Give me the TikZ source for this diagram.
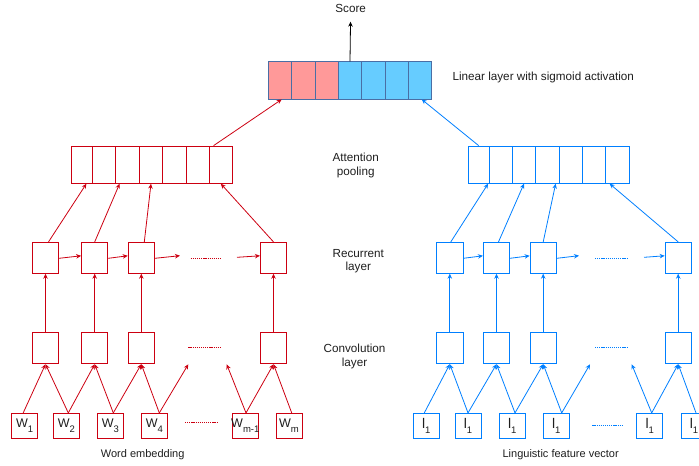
\documentclass[tikz,border=0pt]{standalone}
\usepackage{fontspec}
\setmainfont{Liberation Sans}
\usetikzlibrary{arrows.meta,calc}
\definecolor{cred}{RGB}{204,0,17}
\definecolor{cblue}{RGB}{0,127,255}
\definecolor{lpink}{RGB}{255,153,153}
\definecolor{lblue}{RGB}{102,204,255}
\definecolor{lborder}{RGB}{74,110,165}
\definecolor{txt}{RGB}{30,30,30}
\newcommand\wsub[1]{\raisebox{-5pt}{\fontsize{9.5}{9.5}\selectfont #1}}
\begin{document}
\begin{tikzpicture}[x=1pt,y=-1pt,
  box/.style={draw, line width=0.8pt, minimum width=26.3pt, minimum height=31pt, inner sep=0pt},
  wbox/.style={draw, line width=0.8pt, minimum width=26pt, minimum height=25pt, inner sep=0pt, text=txt, font=\fontsize{12.5}{12.5}\selectfont},
  cell/.style={draw, line width=0.8pt, minimum height=37.3pt, inner sep=0pt},
  arr/.style={-{Stealth[length=5pt,width=4.5pt]}, line width=0.8pt},
  dots/.style={line width=1pt, dash pattern=on 1.2pt off 0.9pt},
  lbl/.style={text=txt, font=\fontsize{11.7}{13.5}\selectfont, align=center},
  blbl/.style={text=txt, font=\fontsize{11}{13}\selectfont}]
\useasboundingbox (0,0) rectangle (699,466);

% ---------- linear layer ----------
\foreach \c/\w/\f [count=\i] in {280/23.4/lpink, 303.5/23.6/lpink, 326.8/23/lpink, 350/23.4/lblue, 373.35/23.3/lblue, 396.65/23.3/lblue, 420/23.4/lblue}
  \node[cell, draw=lborder, fill=\f, minimum width=\w] (lin\i) at (\c,80.35) {};

% ---------- attention pooling ----------
\foreach \c/\w [count=\i] in {82/20.6, 104/23.4, 127.5/23.6, 151/23.4, 174.35/23.3, 197.65/23.3, 220.8/23}
  \node[cell, draw=cred, minimum width=\w] (aL\i) at (\c,164.65) {};
\foreach \c/\w [count=\i] in {478.65/20.7, 500.65/23.3, 524/23.4, 547.35/23.3, 570.65/23.3, 594/23.4, 617.35/23.3}
  \node[cell, draw=cblue, minimum width=\w] (aR\i) at (\c,164.65) {};

% ---------- recurrent and convolution ----------
\foreach \n/\x in {1/45.5, 2/94.7, 3/141.3, m/273.5} {
  \node[box, draw=cred] (rL\n) at (\x,257.8) {};
  \node[box, draw=cred] (cL\n) at (\x,348.3) {};
}
\foreach \n/\x in {1/449.8, 2/496.5, 3/543.2, m/678.2} {
  \node[box, draw=cblue] (rR\n) at (\x,257.8) {};
  \node[box, draw=cblue] (cR\n) at (\x,348.3) {};
}

% ---------- inputs ----------
\node[wbox, draw=cred] (w1) at (24.7,425.8) {\makebox[0pt]{W\wsub{1}}};
\node[wbox, draw=cred] (w2) at (66.3,425.8) {\makebox[0pt]{W\wsub{2}}};
\node[wbox, draw=cred] (w3) at (110.3,425.8) {\makebox[0pt]{W\wsub{3}}};
\node[wbox, draw=cred] (w4) at (154.3,425.8) {\makebox[0pt]{W\wsub{4}}};
\node[wbox, draw=cred] (wm1) at (245.3,425.8) {\makebox[0pt]{W\wsub{m-1}}};
\node[wbox, draw=cred] (wm) at (289,425.8) {\makebox[0pt]{W\wsub{m}}};

\foreach \n/\x in {1/426.3, 2/468, 3/512.3, 4/556.3, 5/649.7, 6/694}
  \node[wbox, draw=cblue, font=\fontsize{14}{14}\selectfont] (l\n) at (\x,425.8) {\makebox[0pt]{l\wsub{1}}};

% ---------- labels ----------
\node[lbl] (score) at (350.7,8.7) {Score};
\node[lbl, anchor=west] (linlbl) at (449,77.3) {Linear layer with sigmoid activation};
\node[lbl] (attlbl) at (355.7,165.3) {Attention\\pooling};
\node[lbl] (reclbl) at (358.3,261) {Recurrent\\layer};
\node[lbl] (convlbl) at (354.5,356.5) {Convolution\\layer};
\node[blbl] (wordlbl) at (142.7,455) {Word embedding};
\node[blbl] (linglbl) at (560.7,455) {Linguistic feature vector};

% ---------- score / linear connectors ----------
\draw[arr, black, shorten >=13pt] (lin4.north) -- (score.center);
\draw[arr, cred] ($(aL7.north west)+(4.7,0)$) -- ($(lin1.south)+(1.7,0)$);
\draw[arr, cblue] (aR1.north) -- ($(lin7.south)+(1.7,0)$);

% ---------- recurrent -> attention ----------
\draw[arr, cred] ($(rL1.north)+(3,0)$) -- ($(aL1.south east)+(-6.3,0)$);
\draw[arr, cred] (rL2.north) -- ($(aL3.south west)+(4.3,0)$);
\draw[arr, cred] ($(rL3.north)+(3,0)$) -- (aL4.south);
\draw[arr, cred] (rLm.north) -- (aL7.south);

\draw[arr, cblue] ($(rR1.north)+(1,0)$) -- ($(aR1.south east)+(-1.3,0)$);
\draw[arr, cblue] ($(rR2.north)+(2,0)$) -- (aR3.south);
\draw[arr, cblue] (rR3.north) -- ($(aR4.south)+(8.3,0)$);
\draw[arr, cblue] (rRm.north) -- ($(aR7.south west)+(4.3,0)$);

% ---------- recurrent horizontal ----------
\coordinate (hL1) at (180,255.7);
\coordinate (hL2) at (237,257.3);
\coordinate (hR1) at (579,255.7);
\coordinate (hR2) at (644,257.3);
\draw[arr, cred] ($(rL1.east)+(0,0.5)$) -- ($(rL2.west)+(0,-2)$);
\draw[arr, cred] ($(rL2.east)+(0,0.5)$) -- ($(rL3.west)+(0,-2)$);
\draw[arr, cred] ($(rL3.east)+(0,0.5)$) -- (hL1);
\draw[arr, cred] (hL2) -- ($(rLm.west)+(0,-2)$);
\draw[arr, cblue] ($(rR1.east)+(0,0.5)$) -- ($(rR2.west)+(0,-2)$);
\draw[arr, cblue] ($(rR2.east)+(0,0.5)$) -- ($(rR3.west)+(0,-2)$);
\draw[arr, cblue] ($(rR3.east)+(0,0.5)$) -- (hR1);
\draw[arr, cblue] (hR2) -- ($(rRm.west)+(0,-2)$);

% ---------- convolution -> recurrent ----------
\foreach \n in {1,2,3,m} {
  \draw[arr, cred] (cL\n.north) -- (rL\n.south);
  \draw[arr, cblue] (cR\n.north) -- (rR\n.south);
}

% ---------- inputs -> convolution ----------
\coordinate (fL1) at (188.3,364.3);
\coordinate (fL2) at (226.7,364.3);
\coordinate (fR1) at (590,364.3);
\coordinate (fR2) at (631.7,364.3);
\draw[arr, cred] ($(w1.north)+(-1.5,0)$) -- (cL1.south);
\draw[arr, cred] ($(w2.north)+(2,0)$) -- (cL1.south);
\draw[arr, cred] ($(w2.north)+(2,0)$) -- (cL2.south);
\draw[arr, cred] ($(w3.north)+(3,0)$) -- (cL2.south);
\draw[arr, cred] ($(w3.north)+(3,0)$) -- (cL3.south);
\draw[arr, cred] ($(w4.north)+(5,0)$) -- (cL3.south);
\draw[arr, cred] ($(w4.north)+(5,0)$) -- (fL1);
\draw[arr, cred] ($(wm1.north)+(0.7,0)$) -- (fL2);
\draw[arr, cred] ($(wm1.north)+(0.7,0)$) -- (cLm.south);
\draw[arr, cred] ($(wm.north)+(2.7,0)$) -- (cLm.south);

\draw[arr, cblue] ($(l1.north)+(-2,0)$) -- (cR1.south);
\draw[arr, cblue] (l2.north) -- (cR1.south);
\draw[arr, cblue] (l2.north) -- (cR2.south);
\draw[arr, cblue] ($(l3.north)+(2.7,0)$) -- (cR2.south);
\draw[arr, cblue] ($(l3.north)+(2.7,0)$) -- (cR3.south);
\draw[arr, cblue] ($(l4.north)+(5.4,0)$) -- (cR3.south);
\draw[arr, cblue] ($(l4.north)+(5.4,0)$) -- (fR1);
\draw[arr, cblue] ($(l5.north)+(2,0)$) -- (fR2);
\draw[arr, cblue] ($(l5.north)+(2,0)$) -- (cRm.south);
\draw[arr, cblue] ($(l6.north)+(2,0)$) -- (cRm.south);

% ---------- dotted ellipses ----------
\coordinate (dLw1) at (185,422.7);  \coordinate (dLw2) at (218,422.7);
\coordinate (dRw1) at (592.3,425.7); \coordinate (dRw2) at (622.7,425.7);
\coordinate (dLc1) at (188.3,347.7); \coordinate (dLc2) at (220.7,347.7);
\coordinate (dRc1) at (595,347.7);   \coordinate (dRc2) at (627.3,347.7);
\coordinate (dLr1) at (190.7,258);   \coordinate (dLr2) at (220.7,258);
\coordinate (dRr1) at (595,258);     \coordinate (dRr2) at (628.3,258);
\draw[dots, cred] (dLw1) -- (dLw2);
\draw[dots, cblue] (dRw1) -- (dRw2);
\draw[dots, cred] (dLc1) -- (dLc2);
\draw[dots, cblue] (dRc1) -- (dRc2);
\draw[dots, cred] (dLr1) -- (dLr2);
\draw[dots, cblue] (dRr1) -- (dRr2);
\end{tikzpicture}
\end{document}
